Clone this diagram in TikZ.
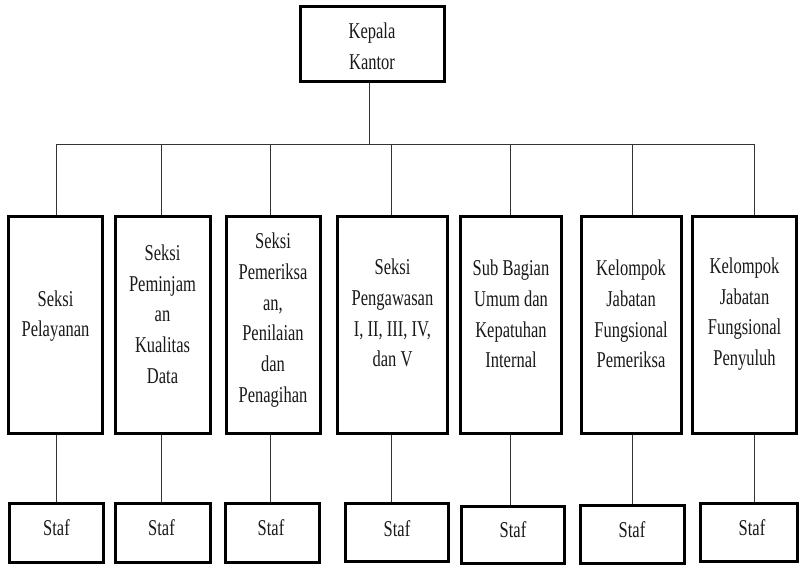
\documentclass[tikz,border=0pt]{standalone}
\usepackage{fontspec}
\setmainfont{Liberation Serif}[FakeStretch=0.73]
\begin{document}
\begin{tikzpicture}[x=1pt,y=-1pt,
  box/.style={draw=black,line width=3pt,inner sep=0pt,fill=white},
  lbl/.style={align=center,font=\fontsize{22.6pt}{30.7pt}\selectfont,inner sep=0pt,text=black!90},
  conn/.style={draw=black!80,line width=1pt}]
\useasboundingbox[fill=white] (0,0) rectangle (799,565);
% head
\node[box,minimum width=144pt,minimum height=75pt] (kk) at (372,44) {};
\node[lbl] (kkt) at (372,46) {Kepala\\Kantor};
% bus coordinates
\coordinate (t0) at (369,144);
\coordinate (t1) at (56,144);
\coordinate (t2) at (161,144);
\coordinate (t3) at (270,144);
\coordinate (t4) at (391,144);
\coordinate (t5) at (510,144);
\coordinate (t6) at (632,144);
\coordinate (t7) at (754,144);
% tall boxes
\node[box,minimum width=94pt,minimum height=217pt] (b1) at (55.5,325) {};
\node[box,minimum width=95pt,minimum height=217pt] (b2) at (162.5,325) {};
\node[box,minimum width=94pt,minimum height=217pt] (b3) at (273,325) {};
\node[box,minimum width=110pt,minimum height=217pt] (b4) at (392.5,325) {};
\node[box,minimum width=101pt,minimum height=217pt] (b5) at (511,325) {};
\node[box,minimum width=100pt,minimum height=217pt] (b6) at (631,325) {};
\node[box,minimum width=104pt,minimum height=217pt] (b7) at (744.5,325) {};
\node[lbl] (b1t) at (55.5,316) {Seksi\\Pelayanan};
\node[lbl] (b2t) at (162.5,314) {Seksi\\Peminjam\\an\\Kualitas\\Data};
\node[lbl] (b3t) at (273,320) {Seksi\\Pemeriksa\\an,\\Penilaian\\dan\\Penagihan};
\node[lbl] (b4t) at (392.5,313) {Seksi\\Pengawasan\\I, II, III, IV,\\dan V};
\node[lbl] (b5t) at (511,314) {Sub Bagian\\Umum dan\\Kepatuhan\\Internal};
\node[lbl] (b6t) at (631,314) {Kelompok\\Jabatan\\Fungsional\\Pemeriksa};
\node[lbl] (b7t) at (744.5,314) {Kelompok\\Jabatan\\Fungsional\\Penyuluh};
% staf boxes
\node[box,minimum width=94pt,minimum height=59pt] (s1) at (56,533) {};
\node[box,minimum width=95pt,minimum height=59pt] (s2) at (162.5,533) {};
\node[box,minimum width=94pt,minimum height=59pt] (s3) at (272,533) {};
\node[box,minimum width=103pt,minimum height=58pt] (s4) at (396.5,532.5) {};
\node[box,minimum width=103.5pt,minimum height=56.5pt] (s5) at (512.75,534.75) {};
\node[box,minimum width=104.5pt,minimum height=58pt] (s6) at (632.25,534.5) {};
\node[box,minimum width=97pt,minimum height=57.5pt] (s7) at (748.5,532.25) {};
\node[lbl] (s1t) at (56.5,528) {Staf};
\node[lbl] (s2t) at (161.5,528) {Staf};
\node[lbl] (s3t) at (271,528) {Staf};
\node[lbl] (s4t) at (397,528.5) {Staf};
\node[lbl] (s5t) at (513,530) {Staf};
\node[lbl] (s6t) at (632,530) {Staf};
\node[lbl] (s7t) at (752,527.5) {Staf};
% connectors
\draw[conn] (kk.south -| t0) -- (t0);
\draw[conn] (t1) -- (t7);
\foreach \i in {1,...,7}{
  \draw[conn] (t\i) -- (t\i |- b\i.north);
  \draw[conn] (t\i |- b\i.south) -- (t\i |- s\i.north);
}
\end{tikzpicture}
\end{document}
